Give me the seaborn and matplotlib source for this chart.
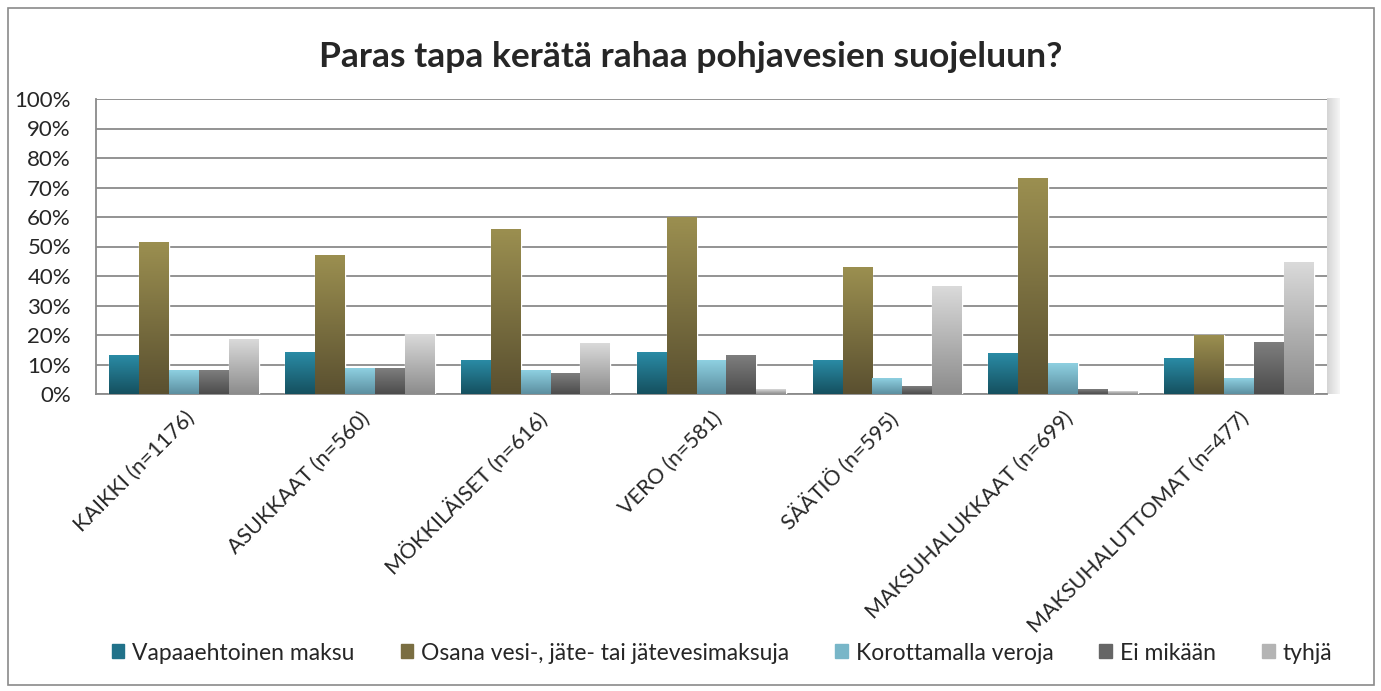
import numpy as np
import pandas as pd
import seaborn as sns
import matplotlib
matplotlib.use("Agg")
import matplotlib.pyplot as plt
from matplotlib.colors import LinearSegmentedColormap
from matplotlib.patches import Rectangle

# data (percent)
ryhmat = ["KAIKKI (n=1176)", "ASUKKAAT (n=560)", "MÖKKILÄISET (n=616)", "VERO (n=581)",
          "SÄÄTIÖ (n=595)", "MAKSUHALUKKAAT (n=699)", "MAKSUHALUTTOMAT (n=477)"]
vastaukset = ["Vapaaehtoinen maksu", "Osana vesi-, jäte- tai jätevesimaksuja",
              "Korottamalla veroja", "Ei mikään", "tyhjä"]
vapaaehtoinen = [13.0, 14.2, 11.5, 13.9, 11.5, 13.6, 11.9]
osana_maksuja = [51.5, 46.8, 55.9, 59.8, 43.0, 73.2, 20.0]
korottamalla = [8.1, 8.8, 7.8, 11.2, 5.4, 10.5, 5.1]
ei_mikaan = [7.8, 8.8, 6.8, 12.9, 2.4, 1.4, 17.3]
tyhja = [18.6, 20.3, 17.0, 1.4, 36.3, 0.7, 44.7]

# (top, bottom) colours of the gradient fill
gradients = [("#2a8ba5", "#15505f"), ("#9b8f50", "#5a5030"), ("#8ed0e1", "#5c8fa0"),
             ("#7e7e7e", "#4c4c4c"), ("#dadada", "#8c8c8c")]
mid_colors = ["#21728a", "#7a6e42", "#78b6c8", "#666666", "#b4b4b4"]

df = pd.DataFrame({
    "ryhma": ryhmat * 5,
    "vastaus": np.repeat(vastaukset, len(ryhmat)),
    "osuus": vapaaehtoinen + osana_maksuja + korottamalla + ei_mikaan + tyhja,
})

sns.set_style("white")
plt.rcParams["font.family"] = ["Lato", "DejaVu Sans"]

fig = plt.figure(figsize=(13.81, 6.91), dpi=100)
ax = fig.add_axes([96 / 1381, 1 - 394 / 691, (1327 - 96) / 1381, (394 - 99) / 691])

sns.barplot(data=df, x="ryhma", y="osuus", hue="vastaus", palette=mid_colors,
            width=0.85, gap=0, saturation=1, legend=False, ax=ax, zorder=3)

# gradient fill on each bar
for cont, (top, bot) in zip(ax.containers, gradients):
    cmap = LinearSegmentedColormap.from_list("g", [bot, top])
    for bar in cont:
        x0, y0 = bar.get_x(), bar.get_y()
        w, h = bar.get_width(), bar.get_height()
        grad = np.linspace(1, 0, 128).reshape(-1, 1)
        ax.imshow(grad, extent=[x0, x0 + w, y0, y0 + h], aspect="auto", cmap=cmap,
                  zorder=3.5, interpolation="bicubic")

n = len(ryhmat)
# back wall shade on the right
wall = LinearSegmentedColormap.from_list("w", ["#d4d4d4", "#f6f6f6"])
ax.imshow(np.linspace(0, 1, 64).reshape(1, -1), extent=[n - 0.5, n - 0.5 + 0.07, 0, 100],
          aspect="auto", cmap=wall, zorder=1, clip_on=False)

ax.set_xlim(-0.5, n - 0.5)
ax.set_ylim(0, 100)
ax.set_yticks(np.arange(0, 101, 10))
ax.set_yticklabels([f"{v}%" for v in range(0, 101, 10)], fontsize=16)
ax.yaxis.grid(True, color="#8a8a8a", lw=1.3, zorder=0)
ax.xaxis.grid(False)
ax.set_xlabel("")
ax.set_ylabel("")

ax.set_xticks(range(n))
ax.set_xticklabels(ryhmat, rotation=45, ha="right", rotation_mode="anchor", fontsize=15.5)
ax.set_xticks(np.arange(-0.5, n), minor=True)
ax.tick_params(axis="x", which="major", length=0, pad=10)
ax.tick_params(axis="x", which="minor", length=5, color="#8a8a8a", width=1.2, direction="out")
ax.tick_params(axis="y", length=7, color="#8a8a8a", width=1.2, direction="out", pad=11)

for s in ["top", "right"]:
    ax.spines[s].set_visible(False)
for s in ["left", "bottom"]:
    ax.spines[s].set_color("#8a8a8a")
    ax.spines[s].set_linewidth(1.3)

fig.text(0.5, 1 - 57 / 691, "Paras tapa kerätä rahaa pohjavesien suojeluun?",
         ha="center", va="center", fontsize=25.5, fontweight="bold")

handles = [Rectangle((0, 0), 1, 1, color=c) for c in mid_colors]
fig.legend(handles, vastaukset, loc="center", bbox_to_anchor=(722 / 1381, 1 - 653 / 691), ncol=5,
           frameon=False, fontsize=16.5, handlelength=0.55, handleheight=0.55,
           columnspacing=2.0, handletextpad=0.35)

fig.patches.append(Rectangle((8 / 1381, 1 - 685 / 691), 1366 / 1381, 677 / 691,
                             transform=fig.transFigure, fill=False, ec="#8a8a8a", lw=1.2))

fig.savefig("out.png", dpi=100)
